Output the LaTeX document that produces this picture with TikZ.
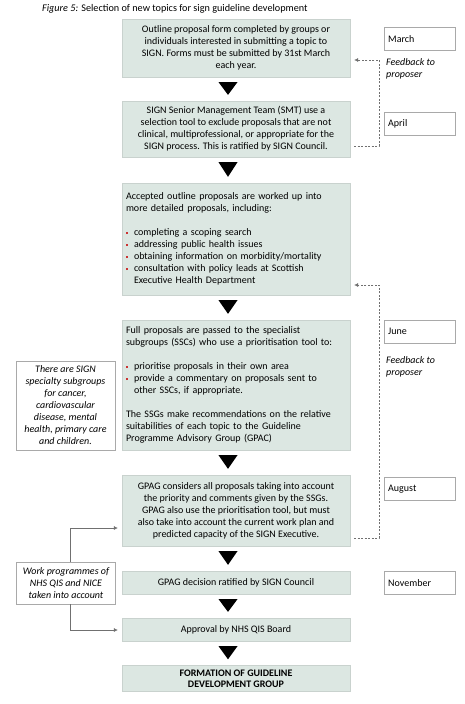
\documentclass[tikz,border=0pt]{standalone}
\usepackage{fontspec}
\setmainfont{Carlito}
\usetikzlibrary{arrows.meta,calc}
\definecolor{boxfill}{HTML}{DCE7E2}
\definecolor{bulletred}{HTML}{CC3333}
\definecolor{linegray}{HTML}{707070}
\newcommand{\rb}{\makebox[8pt][l]{\textcolor{bulletred}{\rule[1.5pt]{2.2pt}{2.2pt}}}}
\tikzset{
  mainbox/.style={fill=boxfill, draw=boxfill!80!gray, line width=0.3pt, minimum width=228pt, inner sep=4pt, align=center, font=\fontsize{10}{12}\selectfont},
  leftbox/.style={mainbox, align=left, text width=220pt},
  monthbox/.style={draw=linegray!60, line width=0.4pt, minimum width=71pt, minimum height=23pt, text width=63pt, inner sep=4pt, align=left, anchor=north west, font=\fontsize{10}{12}\selectfont},
  notebox/.style={draw=linegray!60, line width=0.4pt, minimum width=99pt, inner sep=3pt, align=center, font=\fontsize{10}{12}\selectfont\itshape},
  fbtext/.style={anchor=north west, align=left, inner sep=0pt, font=\fontsize{10}{12}\selectfont\itshape},
  dashline/.style={draw=linegray, dashed, dash pattern=on 2pt off 1.5pt, line width=0.6pt},
  solidline/.style={draw=linegray, line width=0.6pt},
  tip/.style={-{Latex[length=4pt,width=4pt]}},
}
\newcommand{\downtri}[2]{\fill ($(#1.south)+(-17.5,5)$) -- ++(19,0) -- ($(#2.north)+(-8,-6)$) -- cycle;}
\begin{document}
\begin{tikzpicture}[x=1pt,y=-1pt]
\useasboundingbox[fill=white] (0,0) rectangle (465,704);

\node[anchor=base west, inner sep=0pt, font=\fontsize{10.2}{11}\selectfont] (cap) at (42,12) {\textit{Figure 5:} Selection of new topics for sign guideline development};

\node[mainbox, minimum height=58pt] (b1) at (236,48) {Outline proposal form completed by groups or\\individuals interested in submitting a topic to\\SIGN. Forms must be submitted by 31st March\\each year.};

\node[mainbox, minimum height=56pt] (b2) at (236,129) {SIGN Senior Management Team (SMT) use a\\selection tool to exclude proposals that are not\\clinical, multiprofessional, or appropriate for the\\SIGN process. This is ratified by SIGN Council.};

\node[leftbox, minimum height=112pt] (b3) at (236,239) {Accepted outline proposals are worked up into\\more detailed proposals, including:\\[12pt]
\rb completing a scoping search\\
\rb addressing public health issues\\
\rb obtaining information on morbidity/mortality\\
\rb consultation with policy leads at Scottish\\
\hspace*{8pt}Executive Health Department};

\node[leftbox, minimum height=130pt] (b4) at (236,385) {Full proposals are passed to the specialist\\subgroups (SSCs) who use a prioritisation tool to:\\[12pt]
\rb prioritise proposals in their own area\\
\rb provide a commentary on proposals sent to\\
\hspace*{8pt}other SSCs, if appropriate.\\[12pt]
The SSGs make recommendations on the relative\\suitabilities of each topic to the Guideline\\Programme Advisory Group (GPAC)};

\node[mainbox, minimum height=71pt] (b5) at (236,510.5) {GPAG considers all proposals taking into account\\the priority and comments given by the SSGs.\\GPAG also use the prioritisation tool, but must\\also take into account the current work plan and\\predicted capacity of the SIGN Executive.};

\node[mainbox, minimum height=23pt] (b6) at (236,582.5) {GPAG decision ratified by SIGN Council};

\node[mainbox, minimum height=23pt] (b7) at (236,629.5) {Approval by NHS QIS Board};

\node[mainbox, minimum height=25pt, font=\fontsize{10}{11.5}\selectfont\bfseries] (b8) at (236,678.5) {FORMATION OF GUIDELINE\\DEVELOPMENT GROUP};

\downtri{b1}{b2}
\downtri{b2}{b3}
\downtri{b3}{b4}
\downtri{b4}{b5}
\downtri{b5}{b6}
\downtri{b6}{b7}
\downtri{b7}{b8}

% month boxes
\node[monthbox] (m1) at (384,27) {March};
\node[monthbox] (m2) at (384,112) {April};
\node[monthbox] (m3) at (384,320) {June};
\node[monthbox] (m4) at (384,477) {August};
\node[monthbox] (m5) at (384,571) {November};

\node[fbtext] (f1) at (386,58) {Feedback to\\proposer};
\node[fbtext] (f2) at (386,356) {Feedback to\\proposer};

% feedback dashed connectors
\coordinate (d1a) at ($(b2.east)+(4,17)$);
\coordinate (d1b) at (379,60);
\draw[dashline, tip] (d1a) -- (d1a -| d1b) -- (d1b) -- ($(b1.east |- d1b)+(4,0)$);
\coordinate (d2a) at ($(b5.east)+(4,27.5)$);
\coordinate (d2b) at (379,285);
\draw[dashline, tip] (d2a) -- (d2a -| d2b) -- (d2b) -- ($(b3.east |- d2b)+(4,0)$);

% left notes
\node[notebox, minimum height=89pt] (n1) at (65.5,405.5) {There are SIGN\\specialty subgroups\\for cancer,\\cardiovascular\\disease, mental\\health, primary care\\and children.};
\node[notebox, minimum height=42pt] (n2) at (66,583) {Work programmes of\\NHS QIS and NICE\\taken into account};

\coordinate (t1) at (70,528);
\coordinate (t2) at (70,630);
\draw[solidline, tip] (n2.north -| t1) -- (t1) -- ($(b5.west |- t1)+(-4,0)$);
\draw[solidline, tip] (n2.south -| t2) -- (t2) -- ($(b7.west |- t2)+(-4,0)$);
\end{tikzpicture}
\end{document}
